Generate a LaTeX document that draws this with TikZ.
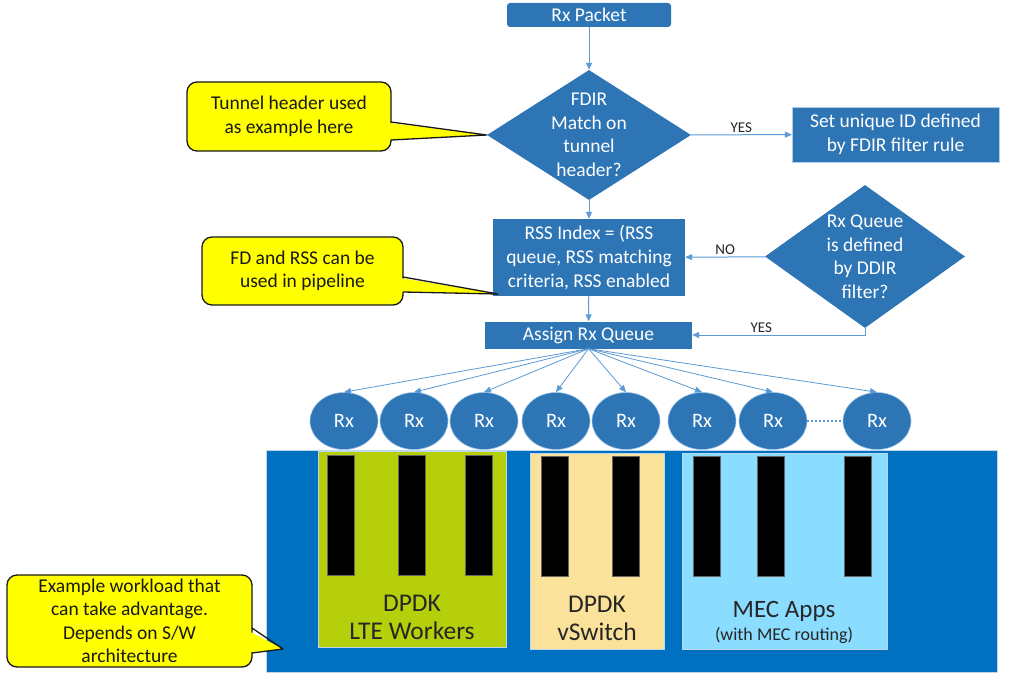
\documentclass[tikz,border=0pt]{standalone}
\usepackage{fontspec}
\setmainfont{Carlito}
\usetikzlibrary{arrows.meta,positioning,shapes.geometric}
\definecolor{boxblue}{RGB}{46,117,182}
\definecolor{linkblue}{RGB}{91,155,213}
\definecolor{hostblue}{RGB}{0,112,192}
\definecolor{ltegreen}{RGB}{181,207,10}
\definecolor{vswyellow}{RGB}{250,226,154}
\definecolor{mecblue}{RGB}{138,221,255}
\definecolor{noteyellow}{RGB}{255,255,0}
\tikzset{>={Triangle[length=7pt,width=6pt]},
	flow/.style={->,draw=linkblue,line width=1pt},
	stepbox/.style={rectangle,fill=boxblue,text=white,inner sep=0pt,align=center,
		font=\fontsize{19.5}{24}\selectfont},
	decision/.style={diamond,fill=boxblue,inner sep=0pt},
	dectext/.style={text=white,align=center,font=\fontsize{19.5}{23.5}\selectfont},
	answer/.style={font=\fontsize{15}{17}\selectfont,text=black!85,inner sep=2pt},
	rxq/.style={ellipse,fill=boxblue,draw=linkblue!60!white,line width=0.6pt,
		minimum width=68pt,minimum height=57pt,inner sep=0pt,text=white,
		font=\fontsize{20.5}{24}\selectfont},
	pool/.style={rectangle,inner sep=0pt,draw=linkblue!40!white,line width=0.4pt},
	core/.style={rectangle,fill=black,draw=black!60,line width=0.4pt,
		minimum width=27pt,minimum height=120pt,inner sep=0pt},
	pooltext/.style={align=center,text=black!85,font=\fontsize{25.5}{28}\selectfont},
	notebox/.style={fill=noteyellow,draw=black!90,line width=1.3pt,rounded corners=10pt},
	noteedge/.style={draw=black!90,line width=1.3pt,line join=round},
	notetext/.style={align=center,text=black!90,font=\fontsize{19.5}{23.5}\selectfont}}

\begin{document}
\begin{tikzpicture}[x=1pt,y=-1pt]
	\useasboundingbox (0,0) rectangle (1017,698);
	\fill[white] (0,0) rectangle (1017,698);

	% flow chart
	\node[stepbox,rounded corners=3pt,minimum width=164pt,minimum height=24pt] (pkt) at (589,15) {Rx Packet};
	\node[decision,minimum width=204pt,minimum height=130pt,
		label={[dectext]center:{FDIR\\Match on\\tunnel\\header?}}] (fdir) at (589,135) {};
	\node[stepbox,draw=linkblue!50!white,line width=0.5pt,minimum width=207pt,minimum height=55pt] (setid) at (895.5,134.5) {Set unique ID defined\\by FDIR filter rule};
	\node[stepbox,minimum width=192pt,minimum height=77pt] (rss) at (589,257.5) {RSS Index = (RSS\\queue, RSS matching\\criteria, RSS enabled};
	\node[decision,minimum width=200pt,minimum height=143pt,
		label={[dectext]center:{Rx Queue\\is defined\\by DDIR\\filter?}}] (ddir) at (865,256.5) {};
	\node[stepbox,minimum width=207pt,minimum height=27pt] (assign) at (588.5,335) {Assign Rx Queue};

	\draw[flow] (pkt) -- (fdir);
	\draw[flow] (fdir) -- node[answer,above] {YES} (setid);
	\draw[flow] (fdir) -- (rss);
	\draw[flow] (ddir) -- node[answer,above] {NO} (rss);
	\draw[flow] (rss) -- (assign);
	\draw[flow] (ddir.south) |- node[answer,above,pos=0.8] {YES} (assign.east);

	% host with the workloads
	\node[pool,fill=hostblue,minimum width=731pt,minimum height=222pt] (host) at (631.5,561) {};
	\node[pool,fill=ltegreen,minimum width=188pt,minimum height=196pt] (lte) at (412,549) {};
	\node[pool,fill=vswyellow,minimum width=134pt,minimum height=196pt] (vsw) at (597,551) {};
	\node[pool,fill=mecblue,minimum width=205pt,minimum height=196pt] (mec) at (784.5,551) {};
	\foreach \x in {340.5,411.5,478.5} \node[core] at (\x,515) {};
	\foreach \x in {554.5,625.5,706.5,770.5,857.5} \node[core] at (\x,516) {};
	\node[pooltext] (ltename) at (412,617) {DPDK\\LTE Workers};
	\node[pooltext] (vswname) at (597,618) {DPDK\\vSwitch};
	\node[pooltext,font=\fontsize{25}{28}\selectfont] (mecname) at (784,611) {MEC Apps};
	\node[pooltext,font=\fontsize{18}{20}\selectfont] (mecnote) at (784,635) {(with MEC routing)};

	% receive queues
	\foreach \x [count=\i] in {344,414,484,556,626,702,773,877}
		\node[rxq] (rx\i) at (\x,421) {Rx};
	\foreach \i in {1,...,8}
		\draw[flow,line width=0.8pt] (assign.south) -- (rx\i.north);
	\draw[linkblue,line width=2pt,dash pattern=on 2pt off 2pt] (rx7.east) -- (rx8.west);

	% call-outs
	\filldraw[notebox] (187,82) rectangle (391,151);
	\fill[noteyellow] (382,122) -- (fdir.west) -- (382,140) -- cycle;
	\draw[noteedge] (391,122) -- (fdir.west) -- (391,140);
	\node[notetext] (note1) at (289,116.5) {Tunnel header used\\as example here};

	\filldraw[notebox] (202,237) rectangle (403,305);
	\fill[noteyellow] (394,277) -- (498,294) -- (394,292) -- cycle;
	\draw[noteedge] (403,277) -- (498,294) -- (403,292);
	\node[notetext] (note2) at (302.5,271) {FD and RSS can be\\used in pipeline};

	\filldraw[notebox] (7,575) rectangle (252,667);
	\fill[noteyellow] (243,628) -- (283,649) -- (243,653) -- cycle;
	\draw[noteedge] (252,628) -- (283,649) -- (252,653);
	\node[notetext] (note3) at (129.5,621) {Example workload that\\can take advantage.\\Depends on S/W\\architecture};
\end{tikzpicture}
\end{document}
